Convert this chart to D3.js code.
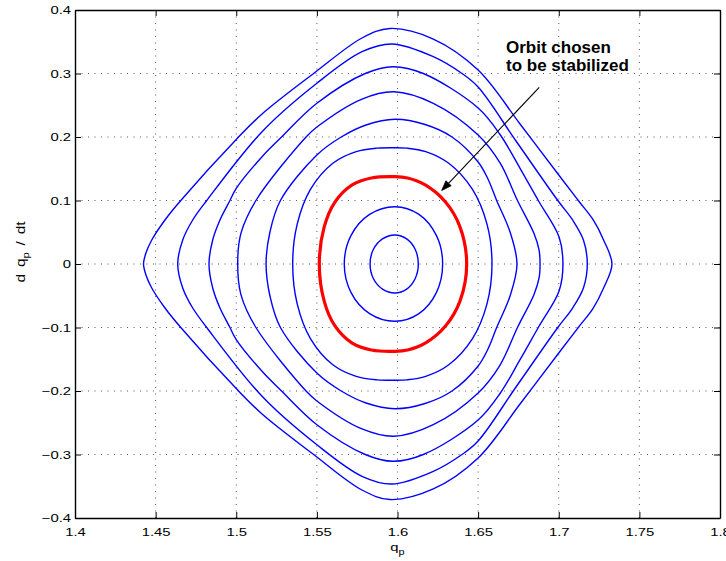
<!DOCTYPE html>
<html>
<head>
<meta charset="utf-8">
<script src="https://cdn.jsdelivr.net/npm/d3@7"></script>
<style>
  html, body { margin: 0; padding: 0; background: #fff; }
  svg { display: block; }
</style>
</head>
<body>
<svg id="chart" width="726" height="561"></svg>
<script>
// Phase-plane orbits (q_p, dq_p/dt). Each list holds the upper half of a
// closed orbit from its left turning point to its right turning point;
// the lower half is the mirror image in dq_p/dt.
const orbit1 = [[1.4425,0],[1.4440,0.0173],[1.4476,0.0378],[1.4558,0.0693],[1.4656,0.1],[1.5,0.1961],[1.516,0.2362],[1.548,0.3],[1.578,0.3559],[1.5953,0.3709],[1.6222,0.3543],[1.65,0.3055],[1.676,0.2205],[1.7,0.1402],[1.7121,0.1],[1.7214,0.0693],[1.7278,0.0378],[1.733,0]];
const orbit2 = [[1.4637,0],[1.4668,0.0378],[1.4730,0.0693],[1.4817,0.1],[1.516,0.2083],[1.55,0.2846],[1.578,0.3343],[1.5966,0.3465],[1.6222,0.3265],[1.64,0.3],[1.65,0.2787],[1.6735,0.1937],[1.6994,0.1],[1.7086,0.0693],[1.7153,0.0378],[1.7177,0]];
const orbit3 = [[1.4831,0],[1.4854,0.0378],[1.4899,0.0693],[1.4961,0.1],[1.5,0.1191],[1.516,0.169],[1.5281,0.2],[1.55,0.2531],[1.58,0.3],[1.5972,0.3107],[1.616,0.3],[1.65,0.2457],[1.6636,0.2039],[1.676,0.1507],[1.6873,0.1],[1.7002,0.0425],[1.7026,0]];
const orbit4 = [[1.5009,0],[1.5029,0.0483],[1.5122,0.1],[1.5433,0.2],[1.55,0.2157],[1.578,0.2598],[1.5978,0.2713],[1.6222,0.2531],[1.65,0.2031],[1.6636,0.1591],[1.6744,0.1],[1.6846,0.0483],[1.6878,0.022],[1.6884,0]];
const orbit5 = [[1.5185,0],[1.5209,0.0504],[1.5274,0.1],[1.55,0.1717],[1.5651,0.2],[1.5805,0.2189],[1.5984,0.2279],[1.6171,0.2197],[1.6338,0.2],[1.65,0.1606],[1.6561,0.1339],[1.6615,0.1],[1.6698,0.0504],[1.6741,0]];
const orbit6 = [[1.535,0],[1.5378,0.0627],[1.5461,0.1178],[1.5599,0.1586],[1.5744,0.1769],[1.5875,0.1824],[1.5984,0.1831],[1.606,0.1824],[1.6175,0.1769],[1.6318,0.1586],[1.6464,0.1178],[1.6555,0.0627],[1.6586,0]];
const orbit7 = [[1.5515,0],[1.5545,0.0581],[1.5611,0.0972],[1.5719,0.1246],[1.5838,0.1354],[1.5984,0.1375],[1.6062,0.1354],[1.6172,0.1246],[1.6299,0.0972],[1.6388,0.0581],[1.6429,0]];
const orbit8 = [[1.567,0],[1.5712,0.045],[1.5827,0.0781],[1.5984,0.0902],[1.6133,0.0781],[1.6241,0.045],[1.628,0]];
const orbit9 = [[1.583,0],[1.585,0.0228],[1.5907,0.0395],[1.5984,0.0457],[1.6057,0.0395],[1.611,0.0228],[1.6129,0]];

const orbits = [orbit1, orbit2, orbit3, orbit4, orbit5, orbit6, orbit7, orbit8, orbit9];
const chosenOrbit = orbit7;

const xTicks = [1.4, 1.45, 1.5, 1.55, 1.6, 1.65, 1.7, 1.75, 1.8];
const yTicks = [-0.4, -0.3, -0.2, -0.1, 0, 0.1, 0.2, 0.3, 0.4];
const xDomain = [1.4, 1.8];
const yDomain = [-0.4, 0.4];

// Annotation: text anchor and arrow (tail -> head), in data coordinates
const noteLines = ["Orbit chosen", "to be stabilized"];
const noteAt = [1.6673, 0.3328];
const arrowTail = [1.6879, 0.2783];
const arrowHead = [1.6274, 0.1157];

// ---------------------------------------------------------------------
const svg = d3.select("#chart");
const plot = { left: 75, right: 720, top: 10, bottom: 518 };

const x = d3.scaleLinear().domain(xDomain).range([plot.left, plot.right]);
const y = d3.scaleLinear().domain(yDomain).range([plot.bottom, plot.top]);

const FONT = '"Liberation Sans", Arial, Helvetica, sans-serif';
const STRETCH = 1.28;   // tick text is set wide
const TICK = 6;

// dotted grid
const grid = svg.append("g").attr("stroke", "#444").attr("stroke-width", 0.9)
  .attr("stroke-dasharray", "1,5.5").attr("fill", "none");
grid.selectAll(".gx").data(xTicks.slice(1, -1)).join("line")
  .attr("x1", d => x(d)).attr("x2", d => x(d))
  .attr("y1", plot.top).attr("y2", plot.bottom);
grid.selectAll(".gy").data(yTicks.slice(1, -1)).join("line")
  .attr("y1", d => y(d)).attr("y2", d => y(d))
  .attr("x1", plot.left).attr("x2", plot.right);

// orbits
const closedPath = upper => upper.concat(
  upper.slice(1, -1).reverse().map(([q, v]) => [q, -v]));
const line = d3.line()
  .x(d => x(d[0])).y(d => y(d[1]))
  .curve(d3.curveCatmullRomClosed.alpha(0.5));

const gOrb = svg.append("g").attr("fill", "none");
gOrb.selectAll("path.orbit").data(orbits.filter(o => o !== chosenOrbit)).join("path")
  .attr("class", "orbit")
  .attr("d", d => line(closedPath(d)))
  .attr("stroke", "#0000ff").attr("stroke-width", 1.4);
gOrb.append("path")
  .attr("d", line(closedPath(chosenOrbit)))
  .attr("stroke", "#ff0000").attr("stroke-width", 3.2);

// axes (ticks point inward, box on all sides)
function styleAxis(g) {
  g.select(".domain").attr("stroke", "#000").attr("stroke-width", 1.4);
  g.selectAll(".tick line").attr("stroke", "#000").attr("stroke-width", 1);
  g.selectAll(".tick text").attr("font-size", 11.6).attr("fill", "#000")
    .attr("font-family", FONT);
}
const fmt = d3.format("");
const xAxis = svg.append("g").attr("transform", `translate(0,${plot.bottom})`)
  .call(d3.axisBottom(x).tickValues(xTicks).tickFormat(fmt)
    .tickSizeInner(-TICK).tickSizeOuter(0).tickPadding(9.5))
  .call(styleAxis);
xAxis.selectAll(".tick text").attr("transform", `scale(${STRETCH},1)`);

const yAxis = svg.append("g").attr("transform", `translate(${plot.left},0)`)
  .call(d3.axisLeft(y).tickValues(yTicks).tickFormat(fmt)
    .tickSizeInner(-TICK).tickSizeOuter(0).tickPadding(4))
  .call(styleAxis);
yAxis.selectAll(".tick text")
  .attr("x", -4 / STRETCH)
  .attr("transform", `scale(${STRETCH},1)`);

svg.append("g").attr("transform", `translate(0,${plot.top})`)
  .call(d3.axisTop(x).tickValues(xTicks).tickFormat("")
    .tickSizeInner(-TICK).tickSizeOuter(0))
  .call(styleAxis);
svg.append("g").attr("transform", `translate(${plot.right},0)`)
  .call(d3.axisRight(y).tickValues(yTicks).tickFormat("")
    .tickSizeInner(-TICK).tickSizeOuter(0))
  .call(styleAxis);

// axis labels
const xl = svg.append("text")
  .attr("font-family", FONT).attr("font-size", 11.6)
  .attr("text-anchor", "middle")
  .attr("transform", `translate(${(plot.left + plot.right) / 2},551) scale(${STRETCH},1)`);
xl.append("tspan").text("q");
xl.append("tspan").attr("font-size", 8.5).attr("dy", 4).text("p");

const yl = svg.append("text")
  .attr("font-family", FONT).attr("font-size", 12)
  .attr("text-anchor", "middle").attr("word-spacing", 2)
  .attr("transform", `translate(25,252) rotate(-90) scale(${STRETCH},1)`);
yl.append("tspan").text("d q");
yl.append("tspan").attr("font-size", 8.8).attr("dy", 4).text("p");
yl.append("tspan").attr("dy", -4).text(" / dt");

// annotation
const note = svg.append("text")
  .attr("font-family", FONT).attr("font-size", 17).attr("font-weight", "bold")
  .attr("x", x(noteAt[0])).attr("y", y(noteAt[1]));
note.selectAll("tspan").data(noteLines).join("tspan")
  .attr("x", x(noteAt[0])).attr("dy", (d, i) => i === 0 ? 0 : 18.6).text(d => d);

const tx = x(arrowTail[0]), ty = y(arrowTail[1]);
const hx = x(arrowHead[0]), hy = y(arrowHead[1]);
const ang = Math.atan2(hy - ty, hx - tx);
const headLen = 10, headHalf = 3.6;
const bx = hx - headLen * Math.cos(ang), by = hy - headLen * Math.sin(ang);
svg.append("line")
  .attr("x1", tx).attr("y1", ty).attr("x2", bx).attr("y2", by)
  .attr("stroke", "#000").attr("stroke-width", 1.1);
svg.append("path")
  .attr("d", d3.line()([
    [hx, hy],
    [bx + headHalf * Math.sin(ang), by - headHalf * Math.cos(ang)],
    [bx - headHalf * Math.sin(ang), by + headHalf * Math.cos(ang)]
  ]) + "Z")
  .attr("fill", "#000").attr("stroke", "#000").attr("stroke-width", 0.8);
</script>
</body>
</html>
